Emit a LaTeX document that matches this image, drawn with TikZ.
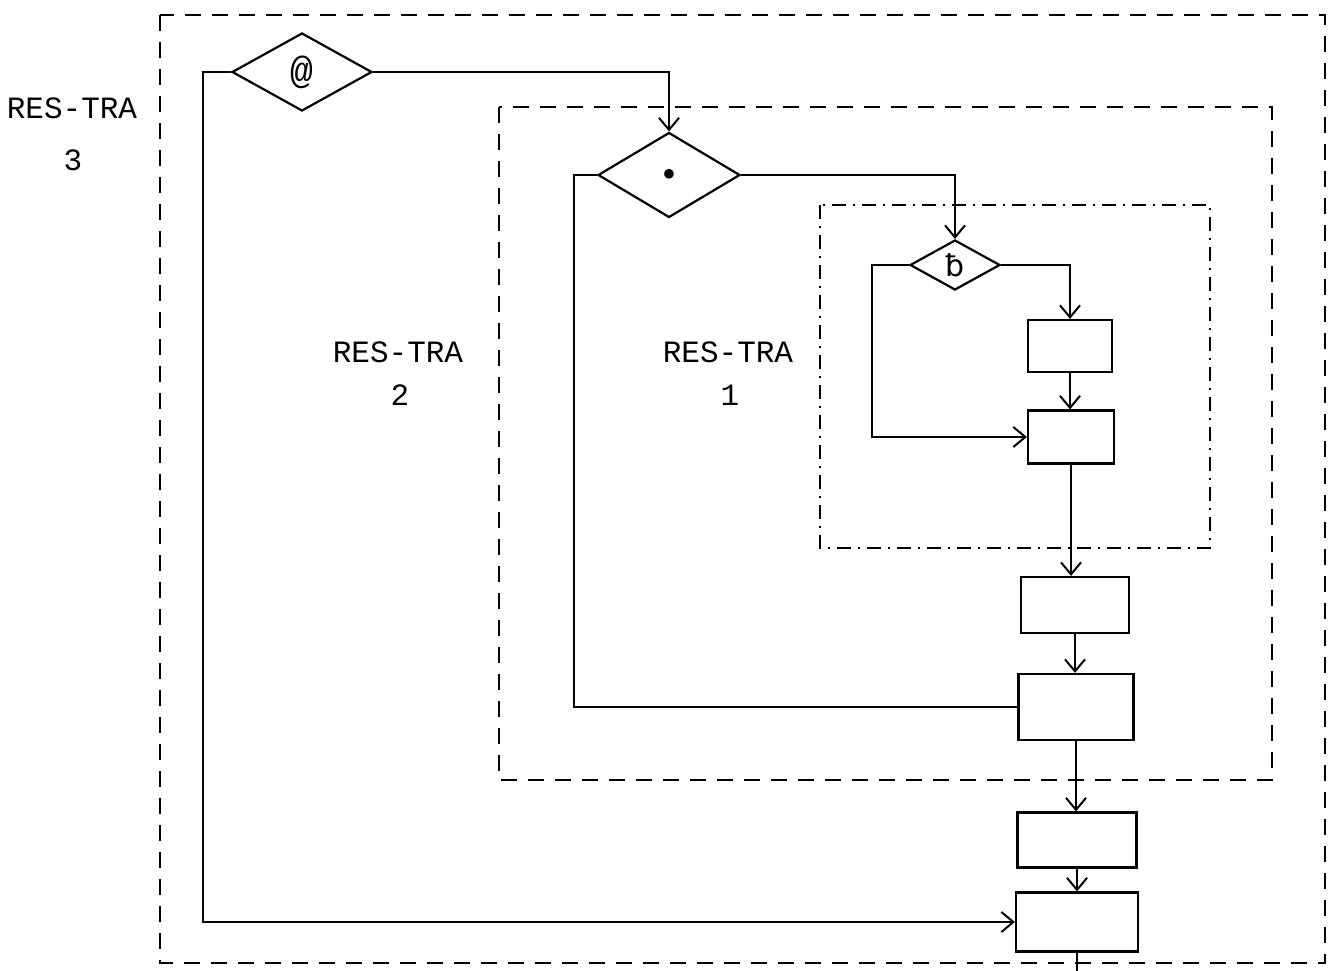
\documentclass[tikz,border=0pt]{standalone}
\usepackage{fontspec}
\setmonofont{Liberation Mono}
\newfontfamily\dejavu{DejaVu Sans}
\usetikzlibrary{shapes.geometric,arrows.meta}
\begin{document}
\begin{tikzpicture}[x=1pt,y=-1pt, line width=2.2pt,
  dec/.style={draw, diamond, inner sep=0pt},
  blk/.style={draw, rectangle, inner sep=0pt},
  lbl/.style={font=\ttfamily\fontsize{31}{36}\selectfont, inner sep=0pt},
  arr/.style={-{Straight Barb[length=12pt,width=20pt,line width=2pt]}},
  frame/.style={dash pattern=on 16pt off 11pt, line width=2pt},
  frameone/.style={dash pattern=on 14pt off 7pt on 2pt off 7pt, line width=1.8pt}]
\useasboundingbox (0,0) rectangle (1333,971);
% frames
\draw[frame] (160,15) rectangle (1325,963);
\draw[frame] (499,107) rectangle (1272,780);
\draw[frameone] (820,205) rectangle (1210,548);
% labels
\node[lbl] (l3a) at (72,108) {RES-TRA};
\node[lbl] (l3b) at (73,160) {3};
\node[lbl] (l2a) at (398,352) {RES-TRA};
\node[lbl] (l2b) at (400,395) {2};
\node[lbl] (l1a) at (728,352) {RES-TRA};
\node[lbl] (l1b) at (730,395) {1};
% decisions
\node[dec, minimum width=140pt, minimum height=78pt, font=\ttfamily\fontsize{38}{42}\selectfont] (d3) at (302,72) {@};
\node[dec, minimum width=142pt, minimum height=85pt, font=\fontsize{24}{28}\selectfont] (d2) at (669,175) {$\bullet$};
\node[dec, minimum width=90pt, minimum height=50pt, font=\dejavu\fontsize{30}{34}\selectfont] (d1) at (955,265) {ƀ};
% blocks
\node[blk, minimum width=84pt, minimum height=52pt] (bA) at (1070,346) {};
\node[blk, minimum width=86pt, minimum height=53pt] (bB) at (1071,437) {};
\node[blk, minimum width=108pt, minimum height=56pt] (bC) at (1075,605) {};
\node[blk, minimum width=115pt, minimum height=66pt] (bD) at (1076,707) {};
\node[blk, minimum width=119pt, minimum height=55pt] (bE) at (1077,840) {};
\node[blk, minimum width=122pt, minimum height=59pt] (bF) at (1077,922) {};
\coordinate (bot) at (1077,971);
% connectors
\draw[arr] (d3.west) -- ++(-28,0) |- (bF.west);
\draw[arr] (d3.east) -| (d2.north);
\draw (d2.west) -- ++(-23,0) |- (bD.west);
\draw[arr] (d2.east) -| (d1.north);
\draw[arr] (d1.west) -- ++(-37,0) |- (bB.west);
\draw[arr] (d1.east) -| (bA.north);
\draw[arr] (bA.south) -- (bA.south |- bB.north);
\draw[arr] (bB.south) -- (bB.south |- bC.north);
\draw[arr] (bC.south) -- (bC.south |- bD.north);
\draw[arr] (bD.south) -- (bD.south |- bE.north);
\draw[arr] (bE.south) -- (bE.south |- bF.north);
\draw (bF.south) -- (bot);
\end{tikzpicture}
\end{document}
